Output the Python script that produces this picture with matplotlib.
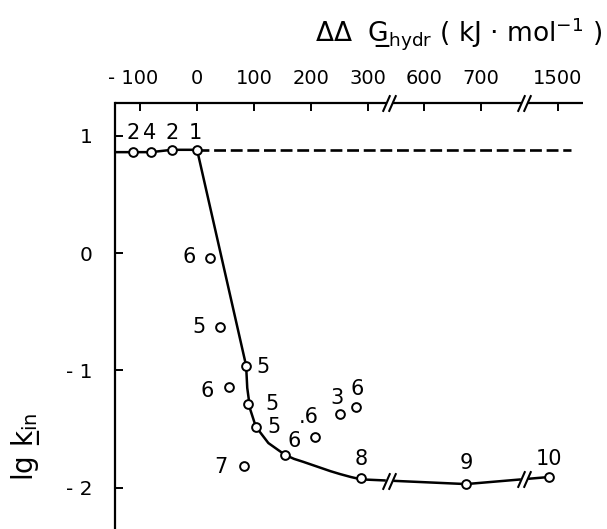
import numpy as np
import matplotlib
matplotlib.use("Agg")
import matplotlib.pyplot as plt

plt.rcParams['font.family'] = ['DejaVu Sans']
plt.rcParams['mathtext.fontset'] = 'dejavusans'

# measured points: dG_hydr (kJ/mol) and lg k_in, with the number printed next to each
dg = [-112, -81, -44, 0, 23, 40, 86, 56, 89, 103, 154, 82, 207, 251, 279, 288, 674, 1484]
lgk = [0.86, 0.86, 0.88, 0.88, -0.04, -0.63, -0.96, -1.14, -1.29, -1.48, -1.72, -1.82,
       -1.57, -1.37, -1.31, -1.92, -1.97, -1.91]
labels = ['2', '4', '2', '1', '6', '5', '5', '6', '5', '5', '6', '7', '.6', '3', '6', '8', '9', '10']

# hand drawn trend curve
curve_dg = [-144, -112, -81, -44, 0, 86, 88, 93, 103, 125, 154, 170, 186, 201, 216, 234,
            251, 270, 288, 674, 1484]
curve_lgk = [0.86, 0.86, 0.86, 0.88, 0.88, -0.96, -1.15, -1.33, -1.48, -1.62, -1.72,
             -1.755, -1.78, -1.805, -1.83, -1.86, -1.885, -1.91, -1.93, -1.97, -1.91]

plateau = 0.88
plateau_end = 1523

xticks = [-100, 0, 100, 200, 300, 600, 700, 1500]
xticklabels = ['- 100\u2002\u2009', '0', '100', '200', '300', '600', '700', '1500']
yticks = [1, 0, -1, -2]
yticklabels = ['1', '0', '- 1', '- 2']

# axis breaks (gaps in the x axis)
breaks = [(337, 539), (775, 1440)]


def fwd(x):
    x = np.asarray(x, dtype=float)
    u = x.copy()
    shift = 0.0
    for a, b in breaks:
        u = np.where(x > a, np.where(x < b, a - shift, x - shift - (b - a)), u)
        shift += b - a
    return u


def inv(u):
    u = np.asarray(u, dtype=float)
    x = u.copy()
    shift = 0.0
    for a, b in breaks:
        x = np.where(u > a - shift, u + shift + (b - a), x)
        shift += b - a
    return x


fig = plt.figure(figsize=(6.07, 5.29), dpi=100)
ax = fig.add_axes([115 / 607, 0.0, 468 / 607, 426 / 529])
ax.set_xscale('function', functions=(fwd, inv))
ax.set_xlim(-144, 1544)
ax.set_ylim(-2.353, 1.279)

for s in ['right', 'bottom', 'top']:
    ax.spines[s].set_visible(False)
ax.spines['left'].set_linewidth(1.6)

# top axis line drawn in pieces so the breaks show
xt = ax.get_xaxis_transform()
seg_x = [(-144, breaks[0][0] - 5), (breaks[0][1] + 5, breaks[1][0] - 5), (breaks[1][1] + 5, 1544)]
for a, b in seg_x:
    ax.plot([a, b], [1, 1], color='black', lw=1.6, transform=xt, clip_on=False,
            solid_capstyle='butt')

slash = [(-0.22, -0.5), (0.22, 0.5)]
for a, b in breaks:
    ax.plot([a - 5, b + 5], [1, 1], ls='none', marker=slash, ms=12, mew=1.5,
            color='black', transform=xt, clip_on=False)

ax.xaxis.set_ticks_position('top')
ax.set_xticks(xticks)
ax.set_xticklabels(xticklabels)
ax.set_yticks(yticks)
ax.set_yticklabels(yticklabels)
ax.tick_params(axis='x', direction='in', length=6, width=1.4, pad=11, labelsize=14)
ax.tick_params(axis='y', direction='in', length=6, width=1.4, pad=16, labelsize=14.5)
ax.minorticks_off()

ax.plot([0, plateau_end], [plateau, plateau], color='black', lw=1.9, dashes=(4.5, 1.8))
ax.plot(curve_dg, curve_lgk, color='black', lw=1.8, zorder=3)

# breaks on the curve
for a, b in breaks:
    yb = np.interp(fwd(a), fwd(curve_dg), curve_lgk)
    ax.plot([a + 1], [yb], ls='none', marker='s', ms=5, mfc='white', mec='white', zorder=4)
    ax.plot([a - 5, b + 5], [yb, yb], ls='none', marker=slash, ms=12, mew=1.5,
            color='black', zorder=5)

ax.plot(dg, lgk, ls='none', marker='o', ms=6.3, mfc='white', mec='black', mew=1.4, zorder=6)

offsets = [(0, 19), (-1, 19), (0, 17), (-2, 17), (-21, 1), (-21, 0), (17, -1), (-22, -4),
           (24, 0), (18, 0), (9, 14), (-23, -1), (-6, 20), (-3, 16), (1, 18), (0, 19),
           (0, 21), (0, 18)]
for x, y, t, off in zip(dg, lgk, labels, offsets):
    ax.annotate(t, (x, y), xytext=off, textcoords='offset pixels', ha='center',
                va='center', fontsize=15, zorder=7)

fig.text(0.993, 1 - 42 / 529, 'ΔΔ  G̲$_{\\rm hydr}$ ( kJ · mol$^{-1}$ )', ha='right',
         va='baseline', fontsize=19)
fig.text(26 / 607, 1 - 447 / 529, 'lg k̲$_{\\rm in}$', rotation=90, ha='center',
         va='center', fontsize=20)

fig.savefig('out.png', dpi=100)
